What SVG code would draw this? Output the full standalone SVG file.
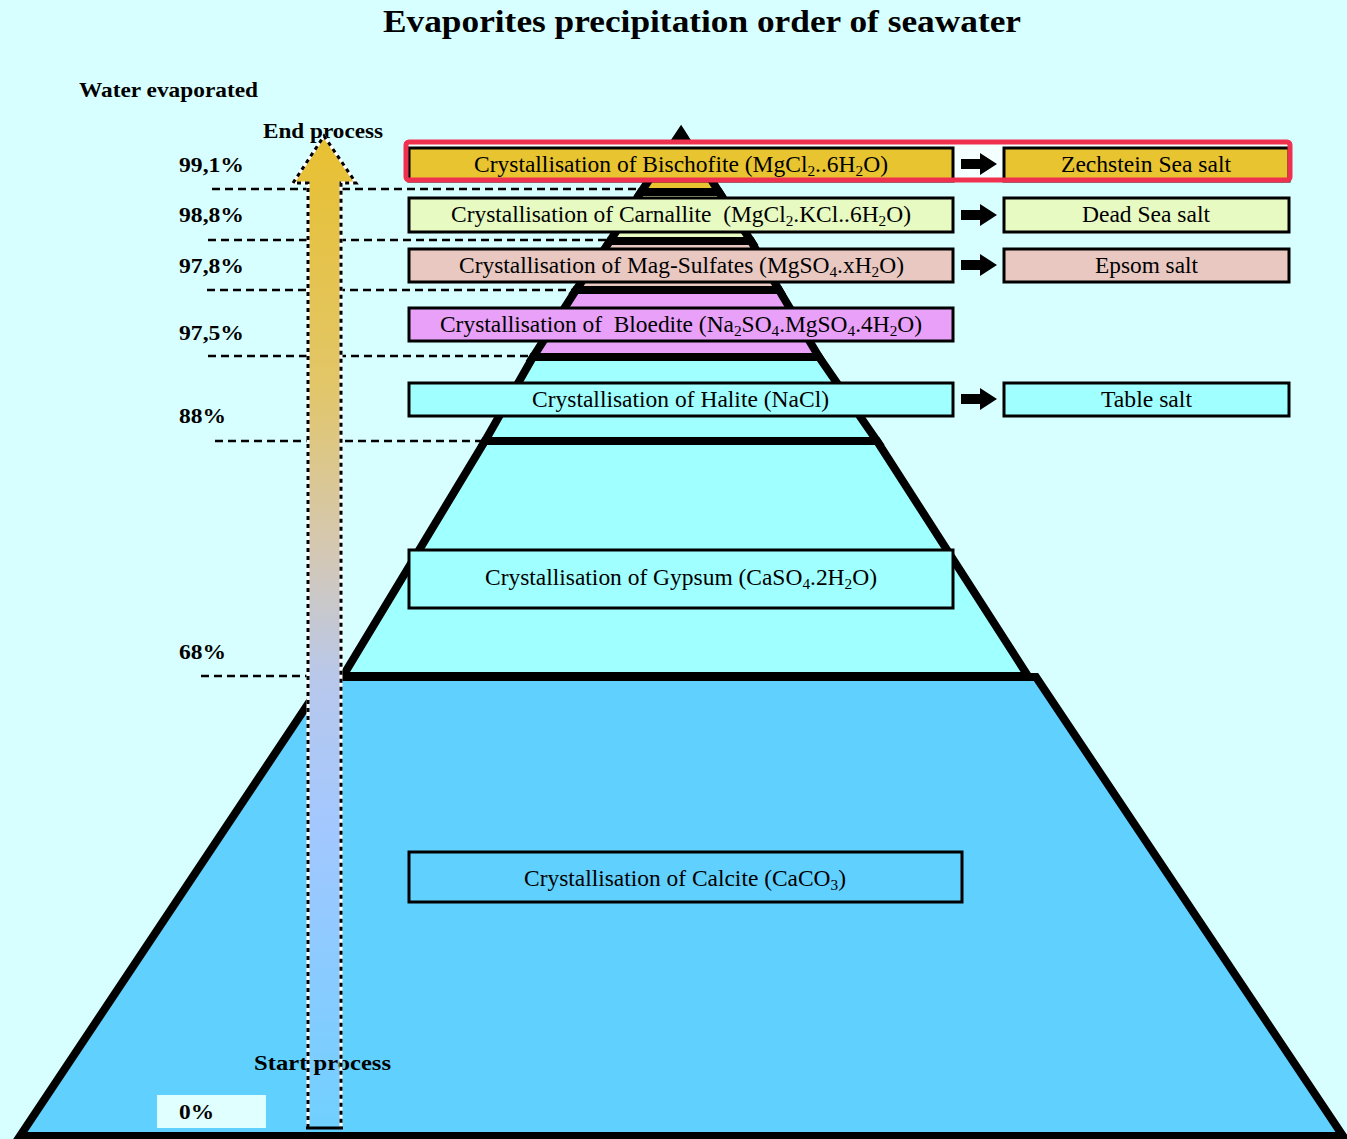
<svg xmlns="http://www.w3.org/2000/svg" width="1347" height="1139" viewBox="0 0 1347 1139">
<defs>
<style>
.t{font-family:"Liberation Serif","Times New Roman",serif;font-size:23px;fill:#000;white-space:pre}
.b{font-family:"Liberation Serif","Times New Roman",serif;font-size:22px;font-weight:bold;fill:#000}
.sub{font-size:15px}
.box{stroke:#000;stroke-width:3}
.layer{stroke:#000;stroke-width:8;stroke-linejoin:miter}
.dash{stroke:#000;stroke-width:2.5;stroke-dasharray:8 5;fill:none}
.arr{fill:#000}
.outw{fill:none;stroke:#fff;stroke-width:3}
.outk{fill:none;stroke:#000;stroke-width:3;stroke-dasharray:4 4}
</style>
<linearGradient id="ag" x1="0" y1="135" x2="0" y2="1128" gradientUnits="userSpaceOnUse">
<stop offset="0" stop-color="#E8C030"/>
<stop offset="0.25" stop-color="#E2C668"/>
<stop offset="0.42" stop-color="#D4C8B4"/>
<stop offset="0.55" stop-color="#B8C8EC"/>
<stop offset="0.7" stop-color="#A2C8FF"/>
<stop offset="0.88" stop-color="#84CCFF"/>
<stop offset="1" stop-color="#70D0FF"/>
</linearGradient>
</defs>
<rect x="0" y="0" width="1347" height="1139" fill="#D8FFFF"/>

<text class="b" x="383" y="32" textLength="638" lengthAdjust="spacingAndGlyphs" style="font-size:31px">Evaporites precipitation order of seawater</text>
<text class="b" x="79" y="97" textLength="179" lengthAdjust="spacingAndGlyphs">Water evaporated</text>

<g id="guides">
<line class="dash" x1="212" y1="189" x2="645" y2="189"/>
<line class="dash" x1="208" y1="240" x2="612" y2="240"/>
<line class="dash" x1="207" y1="290" x2="578" y2="290"/>
<line class="dash" x1="208" y1="356" x2="535" y2="356"/>
<line class="dash" x1="215" y1="441" x2="487" y2="441"/>
<line class="dash" x1="201" y1="676" x2="330" y2="676"/>
</g>

<g id="pyramid">
<polygon id="layer-calcite" class="layer" fill="#60D0FF" points="326,677 1036,677 1343,1136 20,1136"/>
<polygon id="layer-gypsum" class="layer" fill="#A0FFFF" points="485,441 877,441 1028,676 343,676"/>
<polygon id="layer-halite" class="layer" fill="#A0FFFF" points="533,357 819,357 877,441 485,441"/>
<polygon id="layer-bloedite" class="layer" fill="#E8A0F8" points="576,290 779,290 819,357 533,357"/>
<polygon id="layer-magsulf" class="layer" fill="#E8C8C0" points="610,241 751,241 779,290 576,290"/>
<polygon id="layer-carnallite" class="layer" fill="#E6FAC2" points="641,192 719,192 751,241 610,241"/>
<polygon id="layer-bischofite" class="layer" fill="#E8C430" points="681,132 719,192 641,192"/>
</g>

<rect x="406" y="142" width="884" height="39" fill="#F4FFFF"/>

<g id="n-bischofite">
<rect class="box" x="409" y="148" width="544" height="33" fill="#E8C430"/>
<text class="t" x="474" y="172" textLength="414" lengthAdjust="spacingAndGlyphs">Crystallisation of Bischofite (MgCl<tspan class="sub" dy="4">2</tspan><tspan dy="-4">..6H</tspan><tspan class="sub" dy="4">2</tspan><tspan dy="-4">O)</tspan></text>
</g>
<g id="n-zechstein">
<rect class="box" x="1004" y="148" width="285" height="33" fill="#E8C430"/>
<text class="t" x="1061" y="172" textLength="170" lengthAdjust="spacingAndGlyphs">Zechstein Sea salt</text>
</g>
<rect id="highlight" x="406" y="142" width="884" height="38" rx="3" fill="none" stroke="#F0304F" stroke-width="5"/>

<g id="n-carnallite">
<rect class="box" x="409" y="198" width="544" height="34" fill="#E6FAC2"/>
<text class="t" x="451" y="222" textLength="460" lengthAdjust="spacingAndGlyphs">Crystallisation of Carnallite  (MgCl<tspan class="sub" dy="4">2</tspan><tspan dy="-4">.KCl..6H</tspan><tspan class="sub" dy="4">2</tspan><tspan dy="-4">O)</tspan></text>
</g>
<g id="n-deadsea">
<rect class="box" x="1004" y="198" width="285" height="34" fill="#E6FAC2"/>
<text class="t" x="1082" y="222" textLength="128" lengthAdjust="spacingAndGlyphs">Dead Sea salt</text>
</g>

<g id="n-magsulf">
<rect class="box" x="409" y="249" width="544" height="33" fill="#E8C8C0"/>
<text class="t" x="459" y="273" textLength="445" lengthAdjust="spacingAndGlyphs">Crystallisation of Mag-Sulfates (MgSO<tspan class="sub" dy="4">4</tspan><tspan dy="-4">.xH</tspan><tspan class="sub" dy="4">2</tspan><tspan dy="-4">O)</tspan></text>
</g>
<g id="n-epsom">
<rect class="box" x="1004" y="249" width="285" height="33" fill="#E8C8C0"/>
<text class="t" x="1095" y="273" textLength="103" lengthAdjust="spacingAndGlyphs">Epsom salt</text>
</g>

<g id="n-bloedite">
<rect class="box" x="409" y="308" width="544" height="33" fill="#E8A0F8"/>
<text class="t" x="440" y="332" textLength="482" lengthAdjust="spacingAndGlyphs">Crystallisation of  Bloedite (Na<tspan class="sub" dy="4">2</tspan><tspan dy="-4">SO</tspan><tspan class="sub" dy="4">4</tspan><tspan dy="-4">.MgSO</tspan><tspan class="sub" dy="4">4</tspan><tspan dy="-4">.4H</tspan><tspan class="sub" dy="4">2</tspan><tspan dy="-4">O)</tspan></text>
</g>

<g id="n-halite">
<rect class="box" x="409" y="383" width="544" height="33" fill="#A0FFFF"/>
<text class="t" x="532" y="407" textLength="297" lengthAdjust="spacingAndGlyphs">Crystallisation of Halite (NaCl)</text>
</g>
<g id="n-tablesalt">
<rect class="box" x="1004" y="383" width="285" height="33" fill="#A0FFFF"/>
<text class="t" x="1101" y="407" textLength="91" lengthAdjust="spacingAndGlyphs">Table salt</text>
</g>

<g id="n-gypsum">
<rect class="box" x="409" y="550" width="544" height="58" fill="#A0FFFF"/>
<text class="t" x="485" y="585" textLength="392" lengthAdjust="spacingAndGlyphs">Crystallisation of Gypsum (CaSO<tspan class="sub" dy="4">4</tspan><tspan dy="-4">.2H</tspan><tspan class="sub" dy="4">2</tspan><tspan dy="-4">O)</tspan></text>
</g>

<g id="n-calcite">
<rect class="box" x="409" y="852" width="553" height="50" fill="#60D0FF"/>
<text class="t" x="524" y="886" textLength="322" lengthAdjust="spacingAndGlyphs">Crystallisation of Calcite (CaCO<tspan class="sub" dy="4">3</tspan><tspan dy="-4">)</tspan></text>
</g>

<g id="connectors">
<polygon class="arr" points="961,159 980,159 980,153 997,164 980,175 980,169 961,169"/>
<polygon class="arr" points="961,210 980,210 980,204 997,215 980,226 980,220 961,220"/>
<polygon class="arr" points="961,260 980,260 980,254 997,265 980,276 980,270 961,270"/>
<polygon class="arr" points="961,394 980,394 980,388 997,399 980,410 980,404 961,404"/>
</g>

<g id="labels">
<text class="b" x="179" y="172" textLength="65" lengthAdjust="spacingAndGlyphs">99,1%</text>
<text class="b" x="179" y="222" textLength="65" lengthAdjust="spacingAndGlyphs">98,8%</text>
<text class="b" x="179" y="273" textLength="65" lengthAdjust="spacingAndGlyphs">97,8%</text>
<text class="b" x="179" y="340" textLength="65" lengthAdjust="spacingAndGlyphs">97,5%</text>
<text class="b" x="179" y="423" textLength="47" lengthAdjust="spacingAndGlyphs">88%</text>
<text class="b" x="179" y="659" textLength="47" lengthAdjust="spacingAndGlyphs">68%</text>
<rect x="157" y="1095" width="109" height="33" fill="#E0FFFF"/>
<text class="b" x="179" y="1119" textLength="35" lengthAdjust="spacingAndGlyphs">0%</text>
</g>

<g id="process-arrow">
<path d="M308,1128 L308,183 L293,183 L324,136 L356,183 L341,183 L341,1128 Z" fill="url(#ag)"/>
<text class="b" x="254" y="1070" textLength="137" lengthAdjust="spacingAndGlyphs">Start process</text>
<text class="b" x="263" y="138" textLength="120" lengthAdjust="spacingAndGlyphs">End process</text>
<path class="outw" d="M308,1128 L308,183 L293,183 L324,136 L356,183 L341,183 L341,1128"/>
<path class="outk" d="M308,1128 L308,183 L293,183 L324,136 L356,183 L341,183 L341,1128"/>
<line x1="306" y1="1128" x2="343" y2="1128" stroke="#000" stroke-width="3"/>
</g>
</svg>
